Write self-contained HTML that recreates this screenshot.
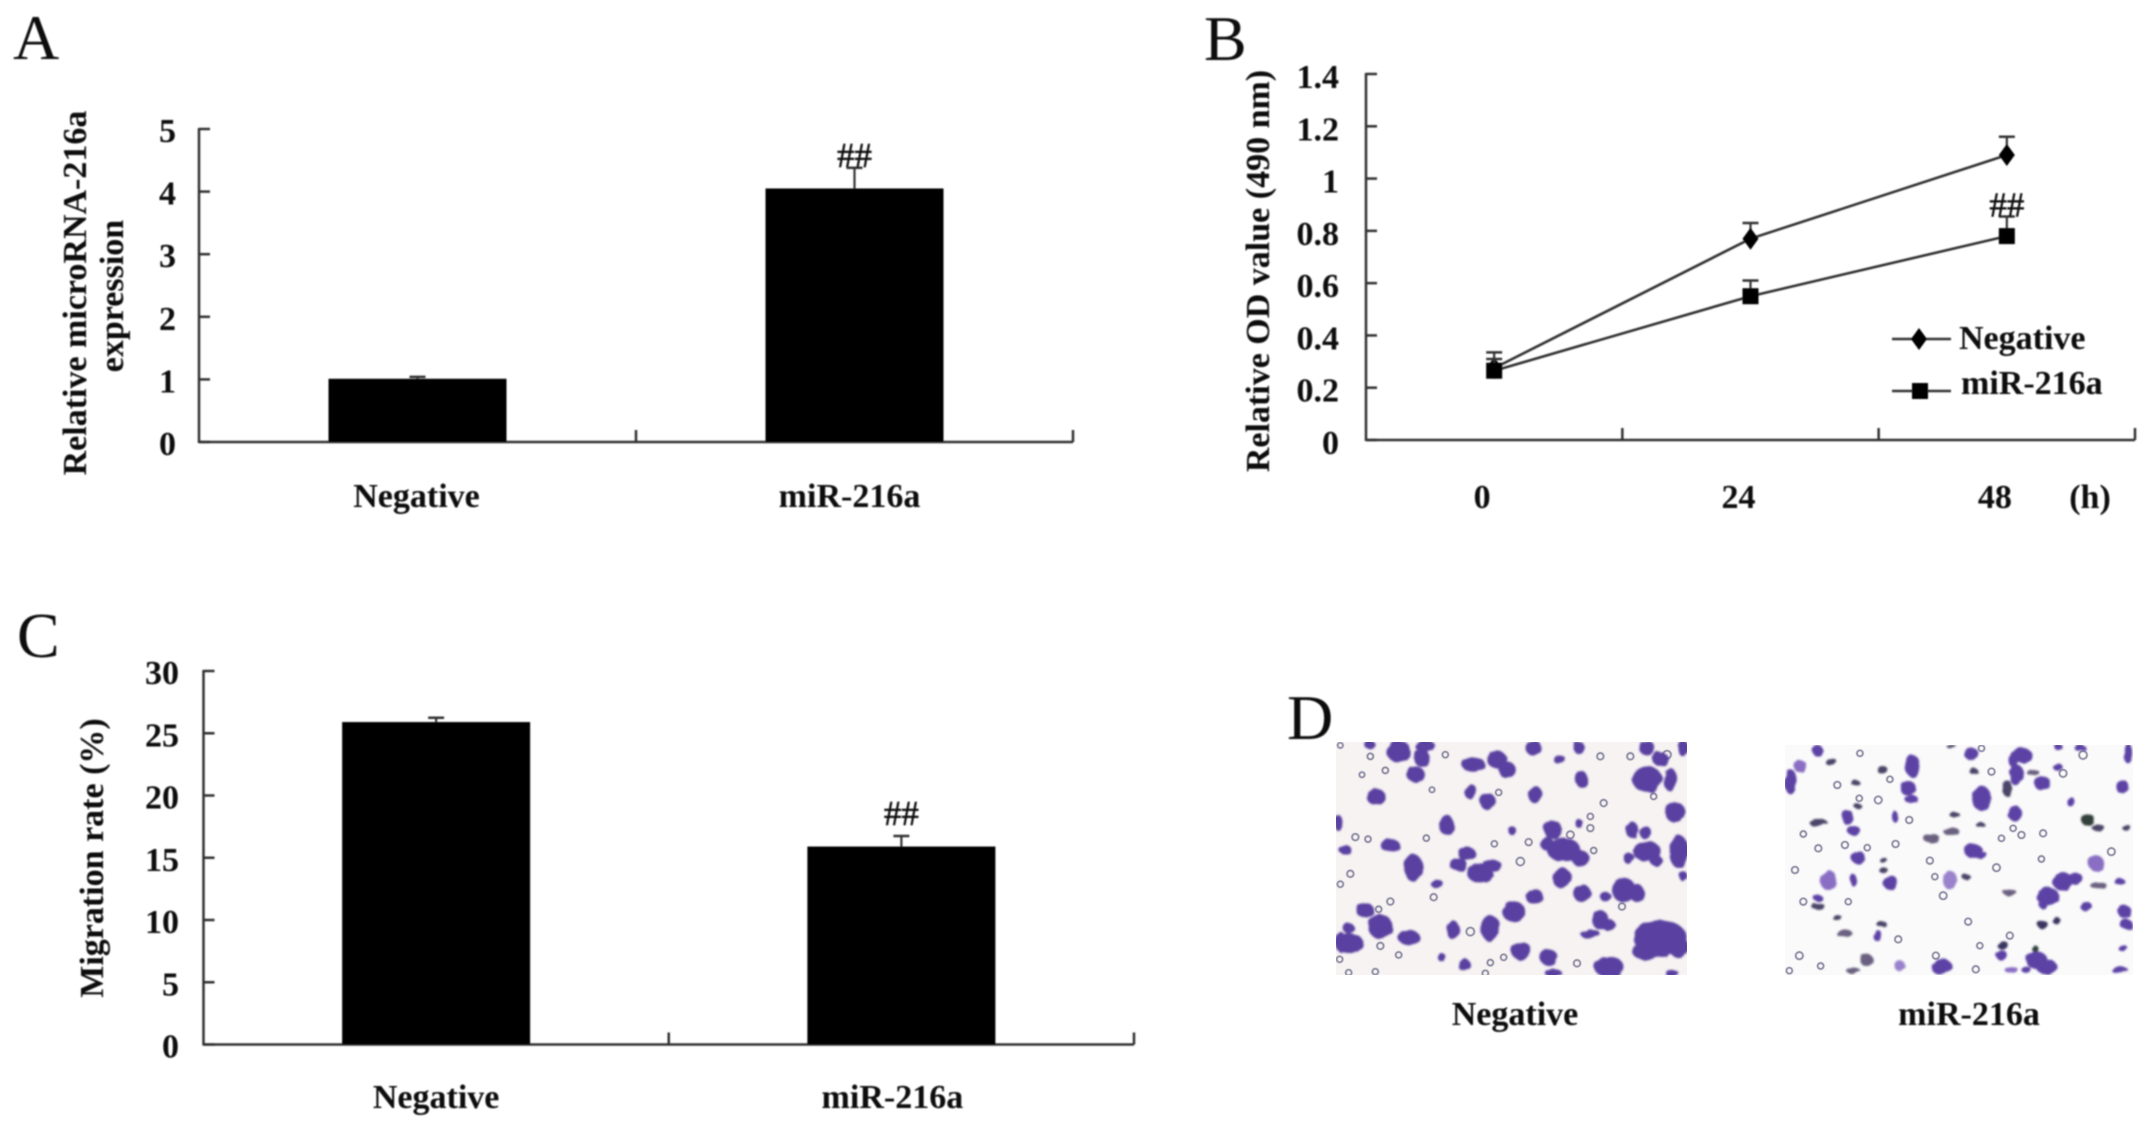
<!DOCTYPE html>
<html lang="en">
<head>
<meta charset="utf-8">
<title>miR-216a figure panels</title>
<style>
html,body{margin:0;padding:0;background:#fff;}
body{width:2150px;height:1131px;overflow:hidden;}
svg{display:block;}
text{font-family:"Liberation Serif",serif;fill:#0c0c0c;}
.bold{font-weight:bold;font-size:34px;}
.sig{font-size:35px;stroke:#0c0c0c;stroke-width:0.5px;}
.letter{font-size:64px;}
</style>
</head>
<body>
<svg id="figure" xmlns="http://www.w3.org/2000/svg" width="2150" height="1131" viewBox="0 0 2150 1131">
<defs>
<filter id="soft" x="-5%" y="-5%" width="110%" height="110%"><feGaussianBlur stdDeviation="0.7"/></filter>
<filter id="cells" x="-5%" y="-5%" width="110%" height="110%">
<feTurbulence type="fractalNoise" baseFrequency="0.03" numOctaves="2" seed="4" result="n"/>
<feDisplacementMap in="SourceGraphic" in2="n" scale="14" result="d"/>
<feGaussianBlur in="d" stdDeviation="3"/>
</filter>
<filter id="rings" x="-5%" y="-5%" width="110%" height="110%"><feGaussianBlur stdDeviation="1.2"/></filter>
<clipPath id="clip-d1"><rect x="197" y="187" width="1053" height="698"/></clipPath>
<clipPath id="clip-d2"><rect x="105" y="195" width="1045" height="690"/></clipPath>
</defs>

<g id="charts" filter="url(#soft)"></g>

<g>
<text class="letter" x="1287" y="739" filter="url(#soft)">D</text>

<svg x="1336" y="742" width="351" height="233" viewBox="197 187 1053 698" preserveAspectRatio="none">
<g clip-path="url(#clip-d1)">
<rect x="197" y="187" width="1053" height="698" fill="#f6f3f2"/>
<g fill="none" stroke="#7d7a96" stroke-width="5" filter="url(#rings)">
<circle cx="210" cy="197" r="8"/><circle cx="300" cy="230" r="9"/><circle cx="345" cy="272" r="9"/><circle cx="275" cy="285" r="8"/><circle cx="485" cy="330" r="8"/><circle cx="255" cy="472" r="10"/><circle cx="293" cy="478" r="9"/><circle cx="468" cy="475" r="9"/><circle cx="240" cy="582" r="10"/><circle cx="210" cy="613" r="9"/><circle cx="490" cy="652" r="10"/><circle cx="360" cy="665" r="10"/><circle cx="385" cy="825" r="9"/><circle cx="330" cy="798" r="10"/><circle cx="208" cy="838" r="9"/><circle cx="315" cy="875" r="9"/><circle cx="235" cy="878" r="9"/><circle cx="660" cy="848" r="9"/><circle cx="700" cy="832" r="9"/><circle cx="600" cy="755" r="12"/><circle cx="685" cy="338" r="9"/><circle cx="525" cy="225" r="9"/><circle cx="990" cy="230" r="10"/><circle cx="1080" cy="230" r="10"/><circle cx="1190" cy="225" r="12"/><circle cx="1000" cy="370" r="10"/><circle cx="960" cy="445" r="10"/><circle cx="960" cy="410" r="9"/><circle cx="672" cy="492" r="9"/><circle cx="970" cy="512" r="9"/><circle cx="1150" cy="350" r="9"/><circle cx="775" cy="487" r="10"/><circle cx="750" cy="545" r="12"/><circle cx="900" cy="465" r="11"/><circle cx="920" cy="850" r="10"/><circle cx="1055" cy="680" r="10"/><circle cx="645" cy="880" r="9"/><circle cx="325" cy="688" r="9"/>
</g>
<g fill="#5a3fa0" stroke="#5a3fa0" stroke-width="9" filter="url(#cells)">
<ellipse cx="385" cy="215" rx="32" ry="28"/><ellipse cx="455" cy="235" rx="20" ry="22"/><ellipse cx="465" cy="200" rx="25" ry="14"/><ellipse cx="437" cy="285" rx="22" ry="20"/><ellipse cx="298" cy="195" rx="12" ry="8"/><ellipse cx="318" cy="352" rx="24" ry="20"/><ellipse cx="610" cy="255" rx="30" ry="18"/><ellipse cx="680" cy="240" rx="25" ry="22"/><ellipse cx="710" cy="270" rx="22" ry="20"/><ellipse cx="600" cy="335" rx="15" ry="18"/><ellipse cx="652" cy="365" rx="20" ry="20"/><ellipse cx="790" cy="205" rx="20" ry="18"/><ellipse cx="925" cy="203" rx="14" ry="12"/><ellipse cx="795" cy="345" rx="18" ry="20"/><ellipse cx="868" cy="240" rx="14" ry="8"/><ellipse cx="1130" cy="205" rx="20" ry="16"/><ellipse cx="1170" cy="238" rx="20" ry="16"/><ellipse cx="1130" cy="298" rx="40" ry="35"/><ellipse cx="1200" cy="300" rx="16" ry="30"/><ellipse cx="1238" cy="205" rx="12" ry="20"/><ellipse cx="1215" cy="398" rx="26" ry="26"/><ellipse cx="935" cy="300" rx="14" ry="20"/><ellipse cx="205" cy="430" rx="10" ry="18"/><ellipse cx="528" cy="435" rx="17" ry="26"/><ellipse cx="360" cy="497" rx="24" ry="16"/><ellipse cx="225" cy="510" rx="14" ry="10"/><ellipse cx="430" cy="565" rx="24" ry="36"/><ellipse cx="590" cy="522" rx="22" ry="16"/><ellipse cx="565" cy="555" rx="22" ry="14"/><ellipse cx="630" cy="580" rx="35" ry="25"/><ellipse cx="665" cy="558" rx="25" ry="14"/><ellipse cx="848" cy="450" rx="22" ry="24"/><ellipse cx="830" cy="492" rx="16" ry="16"/><ellipse cx="880" cy="510" rx="45" ry="32"/><ellipse cx="930" cy="535" rx="22" ry="20"/><ellipse cx="875" cy="595" rx="24" ry="26"/><ellipse cx="725" cy="452" rx="8" ry="8"/><ellipse cx="1085" cy="450" rx="14" ry="20"/><ellipse cx="1125" cy="458" rx="14" ry="14"/><ellipse cx="1130" cy="515" rx="38" ry="25"/><ellipse cx="1075" cy="535" rx="12" ry="12"/><ellipse cx="1158" cy="543" rx="14" ry="12"/><ellipse cx="1225" cy="515" rx="24" ry="45"/><ellipse cx="1240" cy="590" rx="8" ry="10"/><ellipse cx="1060" cy="630" rx="32" ry="32"/><ellipse cx="1100" cy="640" rx="18" ry="22"/><ellipse cx="1005" cy="650" rx="12" ry="10"/><ellipse cx="935" cy="640" rx="22" ry="22"/><ellipse cx="792" cy="650" rx="22" ry="18"/><ellipse cx="730" cy="695" rx="30" ry="26"/><ellipse cx="285" cy="692" rx="22" ry="18"/><ellipse cx="330" cy="740" rx="32" ry="32"/><ellipse cx="235" cy="745" rx="12" ry="12"/><ellipse cx="240" cy="790" rx="35" ry="25"/><ellipse cx="210" cy="785" rx="12" ry="25"/><ellipse cx="415" cy="772" rx="28" ry="18"/><ellipse cx="548" cy="750" rx="14" ry="24"/><ellipse cx="660" cy="745" rx="24" ry="35"/><ellipse cx="752" cy="812" rx="26" ry="22"/><ellipse cx="835" cy="832" rx="22" ry="20"/><ellipse cx="582" cy="855" rx="14" ry="14"/><ellipse cx="925" cy="430" rx="8" ry="8"/><ellipse cx="500" cy="612" rx="14" ry="8"/><ellipse cx="990" cy="720" rx="20" ry="25"/><ellipse cx="960" cy="762" rx="25" ry="8"/><ellipse cx="1015" cy="735" rx="16" ry="12"/><ellipse cx="1015" cy="860" rx="40" ry="26"/><ellipse cx="1170" cy="775" rx="75" ry="50"/><ellipse cx="1130" cy="815" rx="40" ry="20"/><ellipse cx="1225" cy="800" rx="25" ry="30"/><ellipse cx="850" cy="880" rx="20" ry="8"/><ellipse cx="1205" cy="880" rx="15" ry="6"/><ellipse cx="515" cy="833" rx="8" ry="8"/>
</g>
</g>
</svg>

<svg x="1785" y="745" width="348" height="230" viewBox="105 195 1045 690" preserveAspectRatio="none">
<g clip-path="url(#clip-d2)">
<rect x="105" y="195" width="1045" height="690" fill="#fafafa"/>
<g fill="none" stroke="#7d7a96" stroke-width="5" filter="url(#rings)">
<circle cx="330" cy="220" r="9"/><circle cx="420" cy="298" r="9"/><circle cx="262" cy="315" r="10"/><circle cx="385" cy="360" r="11"/><circle cx="328" cy="355" r="9"/><circle cx="160" cy="462" r="9"/><circle cx="205" cy="505" r="10"/><circle cx="285" cy="495" r="10"/><circle cx="352" cy="503" r="9"/><circle cx="437" cy="492" r="10"/><circle cx="478" cy="420" r="10"/><circle cx="135" cy="570" r="10"/><circle cx="160" cy="665" r="10"/><circle cx="295" cy="665" r="9"/><circle cx="148" cy="827" r="11"/><circle cx="212" cy="858" r="9"/><circle cx="118" cy="872" r="9"/><circle cx="445" cy="778" r="10"/><circle cx="558" cy="827" r="10"/><circle cx="690" cy="797" r="9"/><circle cx="780" cy="767" r="10"/><circle cx="678" cy="868" r="10"/><circle cx="580" cy="647" r="11"/><circle cx="540" cy="542" r="10"/><circle cx="555" cy="590" r="9"/><circle cx="740" cy="563" r="11"/><circle cx="815" cy="465" r="10"/><circle cx="755" cy="475" r="9"/><circle cx="790" cy="445" r="9"/><circle cx="880" cy="460" r="10"/><circle cx="875" cy="537" r="9"/><circle cx="1085" cy="515" r="11"/><circle cx="725" cy="275" r="10"/><circle cx="1000" cy="225" r="12"/><circle cx="695" cy="205" r="9"/><circle cx="655" cy="725" r="10"/><circle cx="940" cy="280" r="11"/>
</g>
<g fill="#5d42a6" stroke-width="7" filter="url(#cells)">
<ellipse cx="203" cy="212" rx="15" ry="18"/><ellipse cx="150" cy="258" rx="18" ry="20" fill="#8a6ec4"/><ellipse cx="245" cy="247" rx="18" ry="10" fill="#4b4568"/><ellipse cx="398" cy="270" rx="16" ry="12" fill="#4b4568"/><ellipse cx="488" cy="258" rx="24" ry="32"/><ellipse cx="122" cy="305" rx="18" ry="38"/><ellipse cx="318" cy="310" rx="14" ry="8" fill="#4b4568"/><ellipse cx="475" cy="325" rx="24" ry="22"/><ellipse cx="485" cy="358" rx="20" ry="12"/><ellipse cx="435" cy="410" rx="9" ry="17"/><ellipse cx="293" cy="412" rx="18" ry="22"/><ellipse cx="312" cy="452" rx="20" ry="14"/><ellipse cx="325" cy="380" rx="12" ry="8" fill="#4b4568"/><ellipse cx="205" cy="428" rx="28" ry="10" fill="#4b4568"/><ellipse cx="665" cy="222" rx="22" ry="18"/><ellipse cx="605" cy="200" rx="15" ry="5" fill="#4b4568"/><ellipse cx="670" cy="272" rx="14" ry="8" fill="#4b4568"/><ellipse cx="695" cy="355" rx="28" ry="38"/><ellipse cx="815" cy="225" rx="32" ry="22"/><ellipse cx="790" cy="240" rx="14" ry="22"/><ellipse cx="800" cy="285" rx="22" ry="32"/><ellipse cx="850" cy="278" rx="20" ry="8" fill="#6b6080"/><ellipse cx="878" cy="310" rx="24" ry="22"/><ellipse cx="772" cy="325" rx="14" ry="25" fill="#4b4568"/><ellipse cx="795" cy="400" rx="22" ry="22"/><ellipse cx="925" cy="262" rx="14" ry="12"/><ellipse cx="925" cy="200" rx="14" ry="8"/><ellipse cx="990" cy="203" rx="18" ry="8"/><ellipse cx="1135" cy="220" rx="14" ry="30"/><ellipse cx="1118" cy="320" rx="18" ry="22"/><ellipse cx="963" cy="365" rx="10" ry="16"/><ellipse cx="1015" cy="420" rx="20" ry="18" fill="#33403a"/><ellipse cx="1045" cy="443" rx="20" ry="8" fill="#4b4568"/><ellipse cx="1130" cy="443" rx="14" ry="8" fill="#4b4568"/><ellipse cx="615" cy="405" rx="16" ry="8" fill="#4b4568"/><ellipse cx="692" cy="435" rx="14" ry="8" fill="#4b4568"/><ellipse cx="605" cy="455" rx="25" ry="10" fill="#6b6080"/><ellipse cx="545" cy="475" rx="24" ry="14" fill="#6b6080"/><ellipse cx="670" cy="512" rx="27" ry="22"/><ellipse cx="695" cy="525" rx="18" ry="10"/><ellipse cx="325" cy="533" rx="22" ry="18"/><ellipse cx="402" cy="542" rx="12" ry="8" fill="#4b4568"/><ellipse cx="400" cy="570" rx="14" ry="8" fill="#4b4568"/><ellipse cx="422" cy="608" rx="22" ry="22"/><ellipse cx="310" cy="600" rx="10" ry="18"/><ellipse cx="235" cy="600" rx="25" ry="30" fill="#8a6ec4"/><ellipse cx="600" cy="600" rx="22" ry="28" fill="#9a82cc"/><ellipse cx="648" cy="590" rx="14" ry="8" fill="#4b4568"/><ellipse cx="780" cy="637" rx="20" ry="10" fill="#6b6080"/><ellipse cx="1040" cy="550" rx="22" ry="25" fill="#8a6ec4"/><ellipse cx="1110" cy="605" rx="16" ry="10"/><ellipse cx="1045" cy="615" rx="25" ry="10" fill="#6b6080"/><ellipse cx="940" cy="605" rx="32" ry="27"/><ellipse cx="975" cy="595" rx="22" ry="20"/><ellipse cx="895" cy="650" rx="34" ry="27"/><ellipse cx="880" cy="672" rx="14" ry="14"/><ellipse cx="1010" cy="680" rx="18" ry="14"/><ellipse cx="1125" cy="695" rx="20" ry="20"/><ellipse cx="1130" cy="733" rx="18" ry="16"/><ellipse cx="878" cy="733" rx="16" ry="12" fill="#3b3560"/><ellipse cx="920" cy="722" rx="14" ry="8" fill="#3b3560"/><ellipse cx="205" cy="655" rx="14" ry="10"/><ellipse cx="205" cy="680" rx="20" ry="10" fill="#4b4568"/><ellipse cx="264" cy="715" rx="14" ry="8" fill="#4b4568"/><ellipse cx="283" cy="760" rx="24" ry="12" fill="#6b6080"/><ellipse cx="395" cy="732" rx="16" ry="8" fill="#4b4568"/><ellipse cx="383" cy="767" rx="12" ry="18"/><ellipse cx="350" cy="840" rx="20" ry="18" fill="#6b6080"/><ellipse cx="310" cy="872" rx="22" ry="8" fill="#6b6080"/><ellipse cx="758" cy="795" rx="16" ry="14" fill="#3b3560"/><ellipse cx="755" cy="825" rx="18" ry="14"/><ellipse cx="860" cy="840" rx="32" ry="27"/><ellipse cx="890" cy="860" rx="32" ry="22"/><ellipse cx="855" cy="805" rx="10" ry="10" fill="#33403a"/><ellipse cx="575" cy="860" rx="32" ry="24"/><ellipse cx="450" cy="858" rx="16" ry="16" fill="#9a82cc"/><ellipse cx="785" cy="870" rx="20" ry="10" fill="#8a6ec4"/><ellipse cx="830" cy="870" rx="14" ry="10"/><ellipse cx="1110" cy="870" rx="25" ry="10"/><ellipse cx="1120" cy="805" rx="14" ry="10"/>
</g>
</g>
</svg>

<g filter="url(#soft)">
<text class="bold" x="1515" y="1025" text-anchor="middle">Negative</text>
<text class="bold" x="1969" y="1025" text-anchor="middle">miR-216a</text>
</g>
</g>
</svg>

<script>
// Panel A data
const aCategories = ['Negative', 'miR-216a'];
const aValues = [1.01, 4.05];
const aErrors = [0.03, 0.33];
const aSignificance = ['', '##'];
const aTicks = [0, 1, 2, 3, 4, 5];

// Panel B data
const bTimes = ['0', '24', '48'];
const bSeriesNames = ['Negative', 'miR-216a'];
const bNegative = [0.275, 0.77, 1.09];
const bNegativeErrors = [0.06, 0.06, 0.07];
const bMir = [0.265, 0.55, 0.78];
const bMirErrors = [0.045, 0.06, 0.075];
const bSignificance = ['', '', '##'];
const bTicks = ['0', '0.2', '0.4', '0.6', '0.8', '1', '1.2', '1.4'];

// Panel C data
const cCategories = ['Negative', 'miR-216a'];
const cValues = [25.9, 15.9];
const cErrors = [0.35, 0.85];
const cSignificance = ['', '##'];
const cTicks = [0, 5, 10, 15, 20, 25, 30];

const NS = 'http://www.w3.org/2000/svg';
const root = document.getElementById('charts');
const AXIS = '#333';

function make(tag, props, parent) {
  const node = document.createElementNS(NS, tag);
  for (const k in props) node.setAttribute(k, props[k]);
  parent.appendChild(node);
  return node;
}
function makeText(str, cls, x, y, anchor, parent) {
  const t = make('text', {class: cls, x: x, y: y, 'text-anchor': anchor}, parent);
  t.textContent = str;
  return t;
}
function makeLine(x1, y1, x2, y2, width, parent) {
  return make('line', {x1: x1, y1: y1, x2: x2, y2: y2, stroke: AXIS, 'stroke-width': width}, parent);
}

function drawAxes(g, box, ticks, maxValue, labelRight, labelDrop) {
  const y = v => box.bottom - (v / maxValue) * (box.bottom - box.top);
  const yAxis = makeLine(box.left, box.top - 1, box.left, box.bottom + 1, 2.5, g);
  
  
  const xAxis = makeLine(box.left, box.bottom, box.right, box.bottom, 2.5, g);
  
  
  ticks.forEach(function (tick) {
    const pos = y(parseFloat(tick));
    const mark = makeLine(box.left, pos, box.left + 11, pos, 2.5, g);
    
    
    const label = makeText(String(tick), 'bold', labelRight, pos + labelDrop, 'end', g);
    
    
  });
  for (let i = 1; i <= box.bands; i++) {
    const px = box.left + (box.right - box.left) * i / box.bands;
    const mark = makeLine(px, box.bottom, px, box.bottom - 12, 2.5, g);
    
    
  }
  return y;
}

function drawError(g, cx, yBase, yTop) {
  const stem = makeLine(cx, yBase, cx, yTop, 2.2, g);
  
  
  const cap = makeLine(cx - 8, yTop, cx + 8, yTop, 2.5, g);
  
  
}

function drawBars(g, box, y, cats, vals, errs, sig, barW, sigGap, labelBase, labelShift) {
  const band = (box.right - box.left) / cats.length;
  cats.forEach(function (cat, i) {
    const cx = box.left + band * (i + 0.5);
    drawError(g, cx, y(vals[i]), y(vals[i] + errs[i]));
    const bar = make('rect', {x: cx - barW / 2, y: y(vals[i]), width: barW, height: box.bottom - y(vals[i]), fill: '#000'}, g);
    
    
    const label = makeText(cat, 'bold', cx + labelShift[i], labelBase, 'middle', g);
    
    
    if (sig[i]) {
      const mark = makeText(sig[i], 'sig', cx, y(vals[i] + errs[i]) - sigGap, 'middle', g);
      
      
    }
  });
}

function rotated(g, str, x, y) {
  const t = makeText(str, 'bold', 0, 0, 'middle', g);
  t.setAttribute('transform', 'translate(' + x + ',' + y + ') rotate(-90)');
  return t;
}

/* Panel A */
(function () {
  const g = make('g', {}, root);
  
  
  const letter = makeText('A', 'letter', 13, 59, 'start', g);
  
  
  const box = {left: 199, right: 1073, top: 129, bottom: 442, bands: aCategories.length};
  const y = drawAxes(g, box, aTicks, 5, 176, 13);
  drawBars(g, box, y, aCategories, aValues, aErrors, aSignificance, 178, 1, 507, [-1, -5]);
  const t1 = rotated(g, 'Relative microRNA-216a', 86, 293);
  
  
  const t2 = rotated(g, 'expression', 123, 296);
  
  
})();

/* Panel B */
(function () {
  const g = make('g', {}, root);
  
  
  const letter = makeText('B', 'letter', 1204, 60, 'start', g);
  
  
  const box = {left: 1366, right: 2135, top: 74, bottom: 440, bands: bTimes.length};
  const y = drawAxes(g, box, bTicks, 1.4, 1339, 14);
  const band = (box.right - box.left) / bTimes.length;
  const x = i => box.left + band * (i + 0.5);

  function diamond(cx, cy, parent) {
    return make('polygon', {points: [cx, cy - 11, cx + 8, cy, cx, cy + 11, cx - 8, cy].join(' '), fill: '#000'}, parent);
  }
  function square(cx, cy, parent) {
    return make('rect', {x: cx - 8, y: cy - 8, width: 16, height: 16, fill: '#000'}, parent);
  }
  function series(vals, errs, marker, name) {
    const line = make('polyline', {
      points: vals.map((v, i) => x(i) + ',' + y(v)).join(' '),
      fill: 'none', stroke: AXIS, 'stroke-width': 2.6
    }, g);
    
    
    vals.forEach(function (v, i) {
      drawError(g, x(i), y(v), y(v + errs[i]));
      const m = marker(x(i), y(v), g);
      
      
    });
  }
  series(bNegative, bNegativeErrors, diamond, 'negative');
  series(bMir, bMirErrors, square, 'mir-216a');

  bSignificance.forEach(function (s, i) {
    if (s) {
      const mark = makeText(s, 'sig', x(i), y(bMir[i] + bMirErrors[i]), 'middle', g);
      
      
    }
  });
  bTimes.forEach(function (tm, i) {
    const label = makeText(tm, 'bold', x(i) - 12, 508, 'middle', g);
    
    
  });
  const unit = makeText('(h)', 'bold', 2090, 508, 'middle', g);
  
  

  const title = rotated(g, 'Relative OD value (490 nm)', 1269, 271);
  
  

  const l1 = makeLine(1892, 339, 1951, 339, 2.6, g);
  
  
  const m1 = diamond(1919, 339, g);
  
  
  const t1 = makeText(bSeriesNames[0], 'bold', 1959, 349, 'start', g);
  
  
  const l2 = makeLine(1892, 391, 1951, 391, 2.6, g);
  
  
  const m2 = square(1920, 391, g);
  
  
  const t2 = makeText(bSeriesNames[1], 'bold', 1961, 394, 'start', g);
  
  
})();

/* Panel C */
(function () {
  const g = make('g', {}, root);
  
  
  const letter = makeText('C', 'letter', 17, 657, 'start', g);
  
  
  const box = {left: 203.5, right: 1134, top: 671, bottom: 1044.5, bands: cCategories.length};
  const y = drawAxes(g, box, cTicks, 30, 179, 13);
  drawBars(g, box, y, cCategories, cValues, cErrors, cSignificance, 188, 11, 1108, [0, -9]);
  const title = rotated(g, 'Migration rate (%)', 103, 858);
  
  
})();
</script>
</body>
</html>
